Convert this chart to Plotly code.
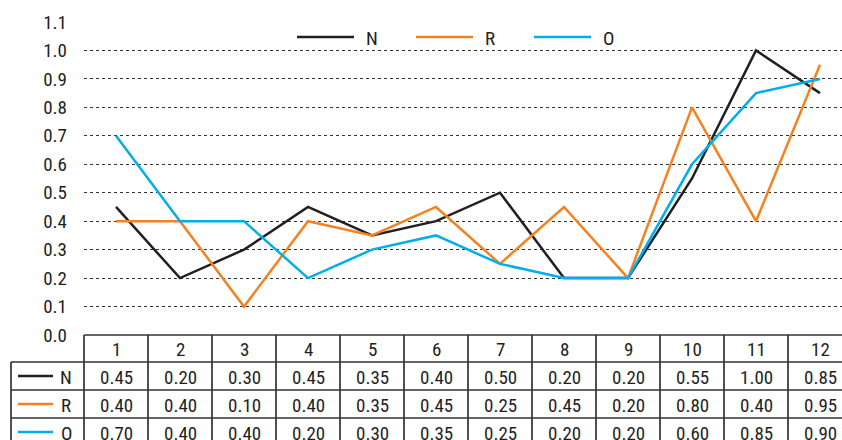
import plotly.graph_objects as go

periods = list(range(1, 13))
series_names = ["N", "R", "O"]
n_values = [0.45, 0.20, 0.30, 0.45, 0.35, 0.40, 0.50, 0.20, 0.20, 0.55, 1.00, 0.85]
r_values = [0.40, 0.40, 0.10, 0.40, 0.35, 0.45, 0.25, 0.45, 0.20, 0.80, 0.40, 0.95]
o_values = [0.70, 0.40, 0.40, 0.20, 0.30, 0.35, 0.25, 0.20, 0.20, 0.60, 0.85, 0.90]
y_ticks = [round(i * 0.1, 1) for i in range(12)]

COLORS = {"N": "#231F20", "R": "#F58220", "O": "#00AEEF"}
INK = "#231F20"
GRID = "#333333"
FONT = "Roboto Condensed, Roboto, sans-serif"
FS = 19

W, H = 842, 440
L, T, B = 84, 22, 105
COL_W = 64
plot_w = W - L
plot_h = H - T - B


def px(x):
    return (x - L) / plot_w


def py(y):
    return (H - B - y) / plot_h


def label(text, x, y, xref="paper", xanchor="center"):
    return dict(text=text, xref=xref, yref="paper", x=x, y=y,
                xanchor=xanchor, yanchor="middle", showarrow=False,
                font=dict(size=FS, color=INK))


series = dict(zip(series_names, [n_values, r_values, o_values]))

fig = go.Figure()
for name in series_names:
    fig.add_trace(go.Scatter(
        x=periods, y=series[name], mode="lines", name=name,
        line=dict(color=COLORS[name], width=2.5),
        showlegend=False, cliponaxis=False,
    ))

shapes, annotations = [], []
line = dict(color="#333333", width=1.7)

# legend on top
leg_x = [297, 416, 534]
for name, x0 in zip(series_names, leg_x):
    shapes.append(dict(type="line", xref="paper", yref="paper",
                       x0=px(x0), x1=px(x0 + 57), y0=py(37), y1=py(37),
                       line=dict(color=COLORS[name], width=2.5)))
    annotations.append(label(name, px(x0 + 67), py(38), xanchor="left"))

# data table
row_tops = [335, 362, 390, 418, 446]
right = L + COL_W * len(periods)
shapes.append(dict(type="line", xref="paper", yref="paper",
                   x0=px(L), x1=px(right), y0=py(335), y1=py(335), line=line))
for yy in row_tops[1:]:
    shapes.append(dict(type="line", xref="paper", yref="paper",
                       x0=px(11), x1=px(right), y0=py(yy), y1=py(yy), line=line))
for k in range(len(periods) + 1):
    xx = L + COL_W * k
    shapes.append(dict(type="line", xref="paper", yref="paper",
                       x0=px(xx), x1=px(xx), y0=py(335), y1=py(446), line=line))
shapes.append(dict(type="line", xref="paper", yref="paper",
                   x0=px(11), x1=px(11), y0=py(362), y1=py(446), line=line))

for p in periods:
    annotations.append(label(str(p), p, py((row_tops[0] + row_tops[1]) / 2 + 1), xref="x"))

for i, name in enumerate(series_names):
    yc = (row_tops[i + 1] + row_tops[i + 2]) / 2 + 1
    shapes.append(dict(type="line", xref="paper", yref="paper",
                       x0=px(18), x1=px(53), y0=py(yc - 1), y1=py(yc - 1),
                       line=dict(color=COLORS[name], width=2.5)))
    annotations.append(label(name, px(66), py(yc)))
    for p, v in zip(periods, series[name]):
        annotations.append(label(f"{v:.2f}", p, py(yc), xref="x"))

fig.update_layout(
    width=W, height=H,
    margin=dict(l=L, r=0, t=T, b=B),
    plot_bgcolor="white", paper_bgcolor="white",
    font=dict(family=FONT, size=FS, color=INK),
    shapes=shapes, annotations=annotations,
    showlegend=False,
)
fig.update_xaxes(range=[0.5, 0.5 + plot_w / COL_W], showgrid=False,
                 showticklabels=False, zeroline=False, showline=False)
fig.update_yaxes(range=[0, 1.1], tickvals=y_ticks,
                 ticktext=[f"{t:.1f}" for t in y_ticks],
                 showgrid=True, gridcolor=GRID, griddash="dot", gridwidth=1.3,
                 zeroline=False, showline=False, ticks="", ticklabelstandoff=16,
                 tickfont=dict(size=FS, color=INK), automargin=False)

fig.write_html("out.html", config={"displayModeBar": False},
               post_script="document.body.style.margin='0';")
